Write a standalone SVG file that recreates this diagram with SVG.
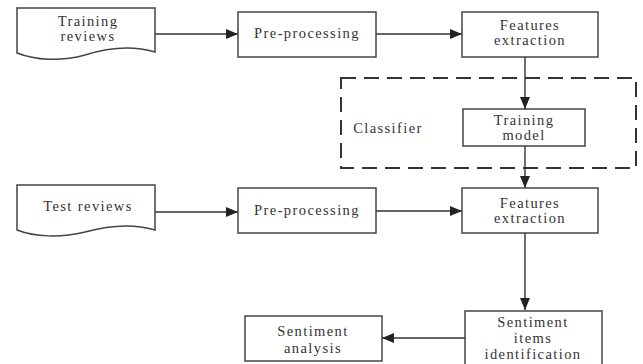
<svg xmlns="http://www.w3.org/2000/svg" width="643" height="364" viewBox="0 0 643 364">
<defs>
<marker id="ah" markerWidth="12" markerHeight="10" refX="12" refY="5" orient="auto" markerUnits="userSpaceOnUse">
<path d="M0,0 L12,5 L0,10 Z" fill="#222"/>
</marker>
<style>
.box{fill:#fff;stroke:#444;stroke-width:1.5}
.t{font-size:14.5px;fill:#333;letter-spacing:1.4px;text-anchor:middle}
.c{fill:none;stroke:#333;stroke-width:1.4;marker-end:url(#ah)}
.dash{fill:none;stroke:#333;stroke-width:2;stroke-dasharray:15 8}
</style>
</defs>
<rect width="643" height="364" fill="#fff"/>
<g font-family="'Liberation Serif', 'DejaVu Serif', 'Times New Roman', serif">
<g id="classifier">
<rect class="dash" x="341" y="78" width="295" height="90"/>
<text class="t" x="388" y="133">Classifier</text>
</g>
<g id="connectors">
<line class="c" x1="155" y1="34" x2="238" y2="34"/>
<line class="c" x1="376" y1="34" x2="462" y2="34"/>
<line class="c" x1="525" y1="57" x2="525" y2="109"/>
<line class="c" x1="525" y1="146" x2="525" y2="188"/>
<line class="c" x1="155" y1="212" x2="238" y2="212"/>
<line class="c" x1="376" y1="211" x2="462" y2="211"/>
<line class="c" x1="525" y1="233" x2="525" y2="310"/>
<line class="c" x1="465" y1="338" x2="382" y2="338"/>
</g>
<g id="training-reviews">
<path class="box" d="M17,53 V8 H155 V52 C135,46 110,47 85,55 C60,62 35,60 17,53 Z"/>
<text class="t" x="88" y="26">Training</text>
<text class="t" x="88" y="41">reviews</text>
</g>
<g id="preprocessing-1">
<rect class="box" x="238" y="12" width="138" height="45"/>
<text class="t" x="307" y="38">Pre-processing</text>
</g>
<g id="features-extraction-1">
<rect class="box" x="462" y="12" width="136" height="45"/>
<text class="t" x="530" y="30">Features</text>
<text class="t" x="530" y="45">extraction</text>
</g>
<g id="training-model">
<rect class="box" x="463" y="109" width="122" height="37"/>
<text class="t" x="524" y="125">Training</text>
<text class="t" x="524" y="140">model</text>
</g>
<g id="test-reviews">
<path class="box" d="M17,230 V185 H155 V230 C135,224 110,225 85,232 C60,238 35,237 17,230 Z"/>
<text class="t" x="88" y="211">Test reviews</text>
</g>
<g id="preprocessing-2">
<rect class="box" x="238" y="188" width="138" height="45"/>
<text class="t" x="307" y="215">Pre-processing</text>
</g>
<g id="features-extraction-2">
<rect class="box" x="462" y="188" width="136" height="45"/>
<text class="t" x="530" y="208">Features</text>
<text class="t" x="530" y="223">extraction</text>
</g>
<g id="sentiment-items">
<rect class="box" x="465" y="311" width="137" height="60"/>
<text class="t" x="533" y="327">Sentiment</text>
<text class="t" x="533" y="343">items</text>
<text class="t" x="533" y="359">identification</text>
</g>
<g id="sentiment-analysis">
<rect class="box" x="245" y="316" width="137" height="45"/>
<text class="t" x="313" y="336">Sentiment</text>
<text class="t" x="313" y="353">analysis</text>
</g>
</g>
</svg>
